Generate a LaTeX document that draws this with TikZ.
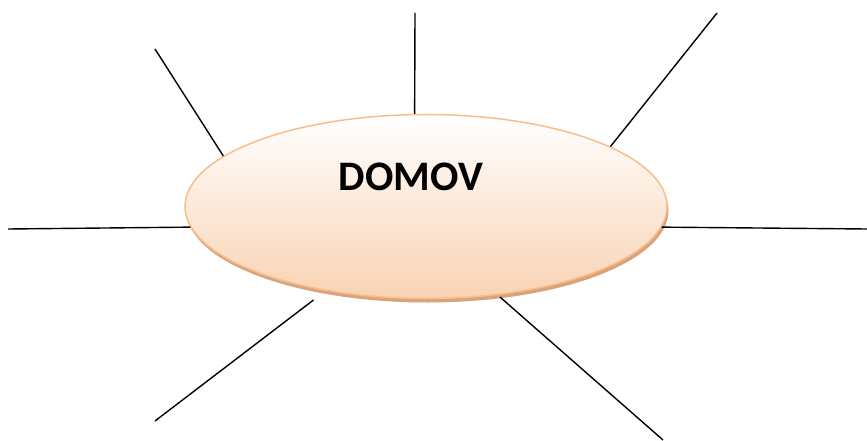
\documentclass[tikz,border=0pt]{standalone}
\usepackage{fontspec}
\setmainfont{Carlito}
\usetikzlibrary{shapes,positioning,shadows}
\definecolor{peach}{HTML}{F9D3B3}
\definecolor{peachline}{HTML}{F8BD8C}
\definecolor{peachshadow}{HTML}{D9A47C}

\begin{document}
\begin{tikzpicture}[x=1pt,y=-1pt]
        \useasboundingbox (0,0) rectangle (867,441);
        \tikzset{
            spoke/.style={line width=1.4pt, black},
            bubble/.style={ellipse, minimum width=482pt, minimum height=184pt, inner sep=0pt,
                top color=white, bottom color=peach, draw=peachline, line width=1.5pt,
                drop shadow={shadow xshift=1.5pt, shadow yshift=-4pt, fill=peachshadow, opacity=1}}
        }

        % Central bubble
        \node[bubble] (home) at (426,206.5) {};
        \node (domov) at (411,177) {\fontsize{42}{50}\selectfont\textbf{DOMOV}};

        % Outer ends of the spokes
        \coordinate (ul) at (155,49);
        \coordinate (up) at (415,13);
        \coordinate (ur) at (717,13);
        \coordinate (lf) at (8,229);
        \coordinate (rt) at (867,229);
        \coordinate (dl) at (155,421);
        \coordinate (dr) at (663,440);

        % Spokes
        \draw[spoke] (home.166) -- (ul);
        \draw[spoke] (home.97) -- (up);
        \draw[spoke] (home.18) -- (ur);
        \draw[spoke] (home.185) -- (lf);
        \draw[spoke] (home.355) -- (rt);
        \draw[spoke, shorten <=15pt] (home.220) -- (dl);
        \draw[spoke, shorten <=3pt] (home.309) -- (dr);
    \end{tikzpicture}
\end{document}
